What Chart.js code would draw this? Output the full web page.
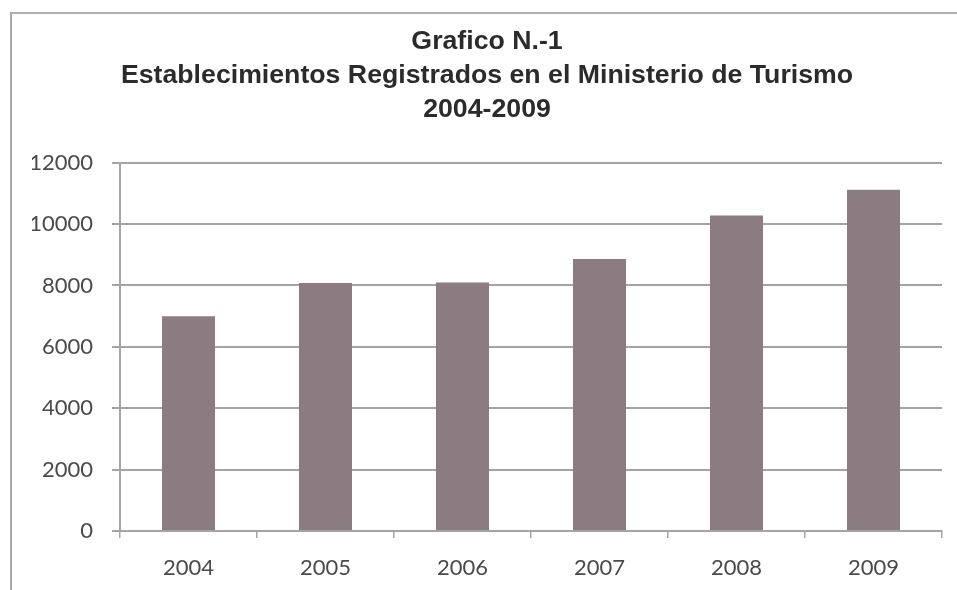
<!DOCTYPE html>
<html lang="es">
<head>
<meta charset="utf-8">
<title>Establecimientos Registrados en el Ministerio de Turismo</title>
<script src="https://cdn.jsdelivr.net/npm/chart.js@4/dist/chart.umd.min.js"></script>
<style>
  html, body { margin: 0; padding: 0; background: #fff; }
  #wrap { position: relative; width: 957px; height: 590px; }
  #marco {
    position: absolute; left: 10px; top: 12px; right: 0; bottom: 0;
    border-left: 2px solid #a9a9a9; border-top: 2px solid #b0b0b0;
    pointer-events: none;
  }
  canvas { display: block; }
</style>
</head>
<body>
<div id="wrap">
  <canvas id="grafico" width="957" height="590"></canvas>
  <div id="marco"></div>
</div>
<script>
// === Datos ===
const anios = ['2004', '2005', '2006', '2007', '2008', '2009'];
const establecimientos = [7000, 8080, 8100, 8860, 10280, 11120];
const tituloLineas = [
  'Grafico N.-1',
  'Establecimientos Registrados en el Ministerio de Turismo',
  '2004-2009'
];
const ejeY = { min: 0, max: 12000, paso: 2000 };

// === Estilo general ===
Chart.defaults.font.family = 'Lato, "Open Sans", sans-serif';
Chart.defaults.color = '#4a4a4a';
Chart.defaults.animation = false;

const gris = '#a4a4a4';

new Chart(document.getElementById('grafico'), {
  type: 'bar',
  data: {
    labels: anios,
    datasets: [{
      label: 'Establecimientos',
      data: establecimientos,
      backgroundColor: '#8a7c81',
      borderWidth: 0,
      barPercentage: 0.387,
      categoryPercentage: 1
    }]
  },
  options: {
    responsive: false,
    // el padding izquierdo centra el titulo sobre el area del grafico
    layout: { padding: { top: 25, right: 15, bottom: 0, left: 32 } },
    plugins: {
      legend: { display: false },
      tooltip: { enabled: false },
      title: {
        display: true,
        text: tituloLineas,
        color: '#2b2b2b',
        font: { family: '"Liberation Sans", Arial, sans-serif', size: 26.7, weight: 'bold', lineHeight: 1.27 },
        padding: { top: 0, bottom: 36 }
      }
    },
    scales: {
      x: {
        afterFit: (s) => { s.height = 59; },
        grid: { drawOnChartArea: false, drawTicks: true, tickLength: 7, color: gris, lineWidth: 1.5 },
        border: { display: true, color: gris, width: 2 },
        ticks: { font: { size: 22 }, padding: 17 }
      },
      y: {
        min: ejeY.min,
        max: ejeY.max,
        afterFit: (s) => { s.width = 88; },
        grid: { color: gris, lineWidth: 2, tickLength: 8 },
        border: { display: true, color: gris, width: 2 },
        ticks: { stepSize: ejeY.paso, font: { size: 22 }, padding: 19, callback: (v) => String(v) }
      }
    }
  }
});
</script>
</body>
</html>
